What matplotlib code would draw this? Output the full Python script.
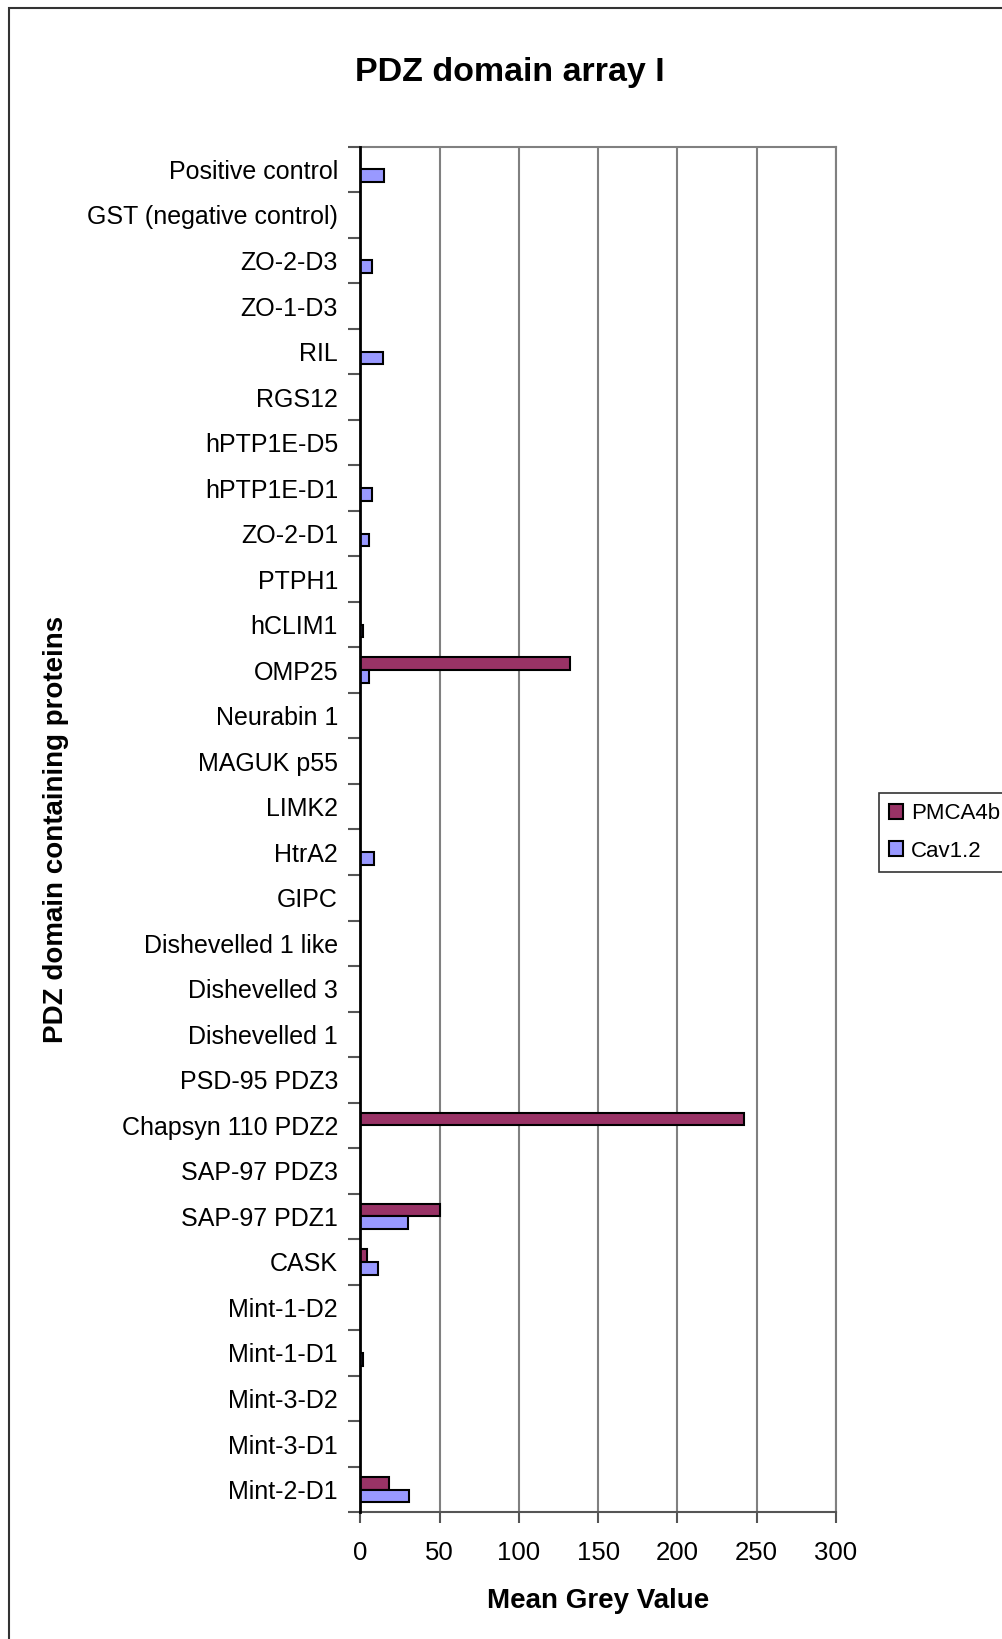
import matplotlib
matplotlib.use("Agg")
import matplotlib.pyplot as plt
import matplotlib.patches as mpatches
import numpy as np

plt.rcParams['font.family'] = ['Liberation Sans', 'DejaVu Sans']

# proteins on the array, top to bottom
proteins = ["Positive control", "GST (negative control)", "ZO-2-D3", "ZO-1-D3",
            "RIL", "RGS12", "hPTP1E-D5", "hPTP1E-D1", "ZO-2-D1", "PTPH1",
            "hCLIM1", "OMP25", "Neurabin 1", "MAGUK p55", "LIMK2", "HtrA2",
            "GIPC", "Dishevelled 1 like", "Dishevelled 3", "Dishevelled 1",
            "PSD-95 PDZ3", "Chapsyn 110 PDZ2", "SAP-97 PDZ3", "SAP-97 PDZ1",
            "CASK", "Mint-1-D2", "Mint-1-D1", "Mint-3-D2", "Mint-3-D1", "Mint-2-D1"]

pmca4b = [0, 0, 0, 0, 0, 0, 0, 0, 0, 0,
          0, 132, 0, 0, 0, 0, 0, 0, 0, 0,
          0, 242, 0, 50, 4, 0, 0, 0, 0, 18]
cav12 = [15, 0, 7.5, 0, 14, 0, 0, 7.5, 5.5, 0,
         2, 5.5, 0, 0, 0, 8.5, 0, 0, 0, 0,
         0, 0, 0, 30, 11, 0, 2, 0, 0, 31]

xticks = [0, 50, 100, 150, 200, 250, 300]

fig = plt.figure(figsize=(10.02, 16.39), dpi=100)
ax = fig.add_axes([0.3596, 0.0773, 0.4747, 0.8332])

y = np.arange(len(proteins))
h = 0.28
ax.barh(y - h / 2, pmca4b, height=h, color='#993366', edgecolor='black',
        linewidth=1.5, label='PMCA4b', zorder=3)
ax.barh(y + h / 2, cav12, height=h, color='#9999ff', edgecolor='black',
        linewidth=1.5, label='Cav1.2', zorder=3)

ax.set_xlim(0, 300)
ax.set_ylim(len(proteins) - 0.5, -0.5)
ax.set_xticks(xticks)
ax.set_xticklabels([str(v) for v in xticks], fontsize=18.5)
ax.set_yticks(y)
ax.set_yticklabels(proteins, fontsize=18)
ax.set_yticks(np.arange(len(proteins) + 1) - 0.5, minor=True)

ax.tick_params(axis='y', which='major', length=0, pad=16)
ax.tick_params(axis='y', which='minor', length=8.5, width=1.5,
               color='#555555', direction='out')
ax.tick_params(axis='x', which='major', length=8, width=1.5,
               color='#555555', direction='out', pad=13)

ax.grid(axis='x', color='#808080', linewidth=1.5, zorder=0)
for side in ['top', 'right', 'bottom']:
    ax.spines[side].set_color('#808080')
    ax.spines[side].set_linewidth(1.5)
ax.spines['bottom'].set_color('#555555')
ax.spines['left'].set_color('black')
ax.spines['left'].set_linewidth(2)
ax.spines['left'].set_zorder(4)

ax.set_xlabel('Mean Grey Value', fontsize=20, fontweight='bold', labelpad=16)
ax.set_ylabel('PDZ domain containing proteins', fontsize=20,
              fontweight='bold')
ax.yaxis.set_label_coords(-0.612, 0.5)

fig.text(0.509, 0.9555, 'PDZ domain array I', fontsize=24.5, fontweight='bold',
         ha='center', va='center')

leg = fig.legend(loc='upper left', bbox_to_anchor=(0.877, 0.5162),
                 fontsize=16, frameon=True, fancybox=False, edgecolor='black',
                 handlelength=0.65, handleheight=0.65, handletextpad=0.35,
                 borderpad=0.45, labelspacing=0.75, borderaxespad=0)
leg.get_frame().set_linewidth(1.2)

# outer chart frame
fig.add_artist(mpatches.Rectangle((0.0085, -0.05), 1.2, 1.0451,
                                  transform=fig.transFigure, fill=False,
                                  edgecolor='#333333', linewidth=1.5))

fig.savefig('out.png', dpi=100)
